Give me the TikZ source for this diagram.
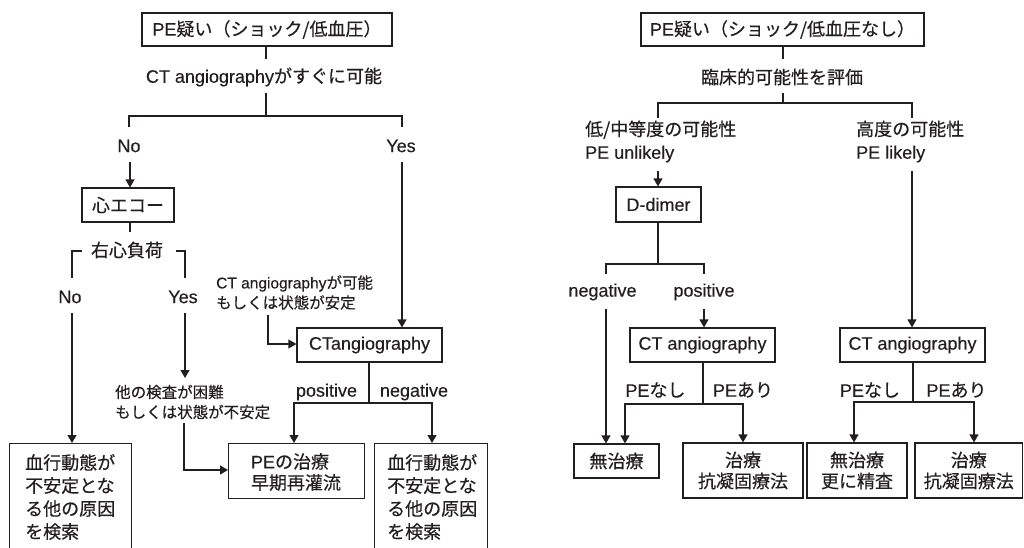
\documentclass[tikz,border=0pt]{standalone}
\usepackage{fontspec}
\setmainfont{Liberation Sans}[FakeBold=0.35]
\newfontfamily\jp{Noto Sans CJK JP}[FakeBold=0.45]
\usetikzlibrary{arrows.meta}
\definecolor{ink}{RGB}{35,31,32}
\begin{document}
\begin{tikzpicture}[x=1pt,y=-1pt,
  every node/.style={text=ink},
  fs/.style={font=\fontsize{18}{21}\selectfont},
  fsj/.style={font=\fontsize{18}{21}\selectfont\jp},
  fss/.style={font=\fontsize{15.5}{20}\selectfont},
  lbl/.style={fs,inner sep=0pt,anchor=center},
  box/.style={fs,draw=ink,line width=1.2pt,inner sep=0pt,align=center},
  conn/.style={draw=ink,line width=1.2pt},
  arr/.style={conn,-{Triangle[width=9pt,length=8pt]}}
]
\useasboundingbox (0,0) rectangle (1024,547);
\clip (0,0) rectangle (1024,547);

% ================= LEFT =================
\node[box,minimum width=250pt,minimum height=33pt] (top1) at (267,29.5) {PE{\jp 疑い（ショック/低血圧）}};
\node[lbl] (q1) at (264,77) {CT angiography{\jp がすぐに可能}};
\coordinate (j1) at (266,116);
\coordinate (no1t) at (129,127);
\coordinate (yes1t) at (402,127);
\draw[conn] (top1.south -| 266,0) -- ++(0,12);
\draw[conn] (j1) -- ++(0,-23);
\draw[conn] (no1t) -- (129,116) -- (402,116) -- (yes1t);
\node[lbl] (no1) at (129,146) {No};
\node[lbl] (yes1) at (401,146) {Yes};

\node[box,fsj,minimum width=92pt,minimum height=34pt] (echo) at (128,205) {心エコー};
\draw[arr] (130,162) -- (echo.north -| 130,0);
\draw[conn] (echo.south -| 130,0) -- (130,232);
\node[lbl,fsj] (rv) at (127,250) {右心負荷};
\coordinate (brL) at (72,278);
\coordinate (brR) at (185,278);
\draw[conn] (82,251) -- (72,251) -- (brL);
\draw[conn] (176,251) -- (185,251) -- (brR);
\node[lbl] (no2) at (70,297) {No};
\node[lbl] (yes2) at (183,297) {Yes};

\node[box,minimum width=122pt,minimum height=120pt,anchor=north west] (hemo1) at (9,443) {};
\node[lbl,anchor=west,align=left,font=\fontsize{18}{23}\selectfont\jp] (hemo1t) at (25,497) {血行動態が\\不安定とな\\る他の原因\\を検索};
\draw[arr] (72,313) -- (hemo1.north -| 72,0);

\coordinate (yesend) at (185,378);
\draw[arr] (185,313) -- (yesend);
\node[lbl,fss,anchor=west,align=left,font=\fontsize{15.5}{20}\selectfont\jp] (hard) at (115,402) {他の検査が困難\\もしくは状態が不安定};

\node[box,minimum width=136pt,minimum height=55pt,anchor=north west] (pe) at (228,443) {};
\node[lbl,align=left] (pet) at (296,472) {PE{\jp の治療}\\{\jp 早期再灌流}};
\draw[arr] (184,423) -- (184,470) -- (pe.west |- 0,470);

\node[box,minimum width=145pt,minimum height=34pt] (cta1) at (369.5,345) {CTangiography};
\draw[arr] (402,162) -- (cta1.north -| 402,0);
\node[lbl,fss,anchor=west,align=left] (poss) at (216,292.5) {CT angiography{\jp が可能}\\{\jp もしくは状態が安定}};
\draw[arr] (268,315) -- (268,344) -- (cta1.west |- 0,344);

\node[box,minimum width=113pt,minimum height=120pt,anchor=north west] (hemo2) at (374,443) {};
\node[lbl,anchor=west,align=left,font=\fontsize{18}{23}\selectfont\jp] (hemo2t) at (387,497) {血行動態が\\不安定とな\\る他の原因\\を検索};

\coordinate (j2) at (369,403);
\draw[conn] (cta1.south -| 369,0) -- (j2);
\draw[arr] (j2) -- (294,403) -- (pe.north -| 294,0);
\draw[arr] (j2) -- (432,403) -- (hemo2.north -| 432,0);
\node[lbl] (pos1) at (326.5,392) {positive};
\node[lbl] (neg1) at (414,392) {negative};

% ================= RIGHT =================
\node[box,minimum width=283pt,minimum height=33pt] (top2) at (782.5,29.5) {PE{\jp 疑い（ショック/低血圧なし）}};
\draw[conn] (top2.south -| 783,0) -- ++(0,12);
\node[lbl,fsj] (q2) at (782,77) {臨床的可能性を評価};
\coordinate (j3) at (783,103);
\draw[conn] (j3) -- ++(0,-10);
\draw[conn] (658,118) -- (658,103) -- (912,103) -- (912,118);
\node[lbl,anchor=west,align=left,font=\fontsize{18}{23}\selectfont] (low) at (585,141.5) {{\jp 低/中等度の可能性}\\PE unlikely};
\node[lbl,anchor=west,align=left,font=\fontsize{18}{23}\selectfont] (high) at (856,141.5) {{\jp 高度の可能性}\\PE likely};

\node[box,minimum width=85pt,minimum height=35pt] (dd) at (658.5,204.5) {D-dimer};
\draw[arr] (658,171) -- (dd.north -| 658,0);
\coordinate (j4) at (658,264);
\draw[conn] (dd.south -| 658,0) -- (j4);
\draw[conn] (606,274) -- (606,264) -- (704,264) -- (704,274);
\node[lbl] (neg2) at (602.5,292) {negative};
\node[lbl] (pos2) at (704,292) {positive};

\node[box,minimum width=145pt,minimum height=34pt] (ctl) at (702.5,345) {CT angiography};
\draw[arr] (704,309) -- (ctl.north -| 704,0);

\node[box,fsj,minimum width=85pt,minimum height=34pt] (none1) at (616.5,461) {無治療};
\draw[arr] (606,309) -- (none1.north -| 606,0);

\node[box,fsj,minimum width=120pt,minimum height=55pt] (tr1) at (743,470.5) {治療\\抗凝固療法};
\coordinate (j5) at (703,404);
\draw[conn] (ctl.south -| 703,0) -- (j5);
\draw[arr] (j5) -- (625,404) -- (none1.north -| 625,0);
\draw[arr] (j5) -- (743,404) -- (tr1.north -| 743,0);
\node[lbl] (pn1) at (655.5,390) {PE{\jp なし}};
\node[lbl] (pa1) at (743,390) {PE{\jp あり}};

\node[box,minimum width=145pt,minimum height=34pt] (ctr) at (912.5,345) {CT angiography};
\draw[arr] (912,171) -- (ctr.north -| 912,0);

\node[box,fsj,minimum width=100pt,minimum height=55pt] (none2) at (857,470.5) {無治療\\更に精査};
\node[box,fsj,minimum width=107.5pt,minimum height=55pt] (tr2) at (968.75,470.5) {治療\\抗凝固療法};
\coordinate (j6) at (913,402);
\draw[conn] (ctr.south -| 913,0) -- (j6);
\draw[arr] (j6) -- (854,402) -- (none2.north -| 854,0);
\draw[arr] (j6) -- (974,402) -- (tr2.north -| 974,0);
\node[lbl] (pn2) at (870,390) {PE{\jp なし}};
\node[lbl] (pa2) at (956.5,390) {PE{\jp あり}};
\end{tikzpicture}
\end{document}
